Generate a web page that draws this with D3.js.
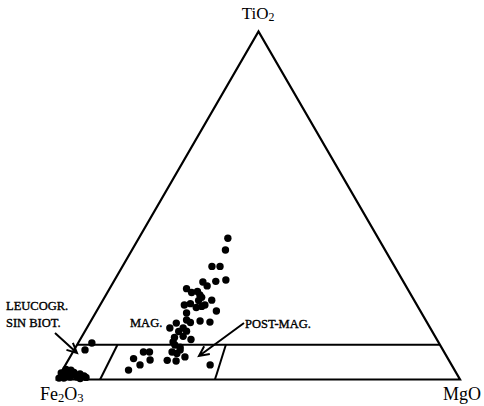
<!DOCTYPE html>
<html>
<head>
<meta charset="utf-8">
<script src="https://cdn.jsdelivr.net/npm/d3@7"></script>
<style>
  html, body { margin: 0; padding: 0; background: #fff; }
  svg { display: block; }
  text { font-family: "Liberation Serif", "Times New Roman", serif; fill: #000; }
</style>
</head>
<body>
<svg id="chart" width="484" height="406"></svg>
<script>
// Ternary diagram Fe2O3 - TiO2 - MgO (wt% normalised to 100)
const vertexLabels = ["Fe2O3", "TiO2", "MgO"];

// Sample compositions
const fe2o3 = [37.3, 39.6, 45.3, 43.3, 43.8, 46.5, 49.8, 49.3, 54.8, 54.1, 52.5, 52.3, 53.5, 50.2, 57.7, 56.0, 55.1, 52.6, 50.6, 58.3,
               56.1, 53.8, 62.3, 59.3, 58.7, 64.6, 62.9, 60.9, 61.3, 64.8, 62.5, 61.0, 52.4, 53.6,
               65.8, 64.8, 67.5, 66.5, 65.0, 69.9, 67.8, 65.2, 59.9, 80.9, 78.0, 77.3, 74.6, 73.1, 74.1, 65.8,
               86.1, 88.8, 98.3, 96.5, 96.4, 94.8, 94.7, 93.5, 92.8, 98.1, 95.6,
               99.3, 96.3, 95.2, 92.5, 94.1, 98.0];
const tio2  = [40.6, 37.2, 32.5, 32.5, 28.6, 28.2, 28.0, 26.9, 26.1, 25.0, 25.3, 23.6, 22.7, 22.8, 21.4, 21.8, 20.7, 21.4, 19.7, 19.1,
               16.8, 16.5, 16.2, 17.1, 16.4, 14.8, 13.8, 13.9, 14.8, 12.1, 12.4, 11.5, 24.3, 21.0,
                9.9,  9.3,  7.9,  7.5,  6.5,  5.5,  5.3,  8.5,  4.2,  2.7,  6.0,  4.2,  7.9,  7.9,  5.6, 10.8,
               10.5,  8.5,  1.0,  1.9,  0.7,  2.0,  0.7,  1.6,  1.0,  0.4,  1.3,
                0.4,  2.9,  2.7,  0.6,  0.3,  1.9];
const mgo   = [22.1, 23.2, 22.2, 24.2, 27.6, 25.3, 22.2, 23.8, 19.1, 20.9, 22.2, 24.1, 23.8, 27.0, 20.9, 22.2, 24.2, 26.0, 29.7, 22.6,
               27.1, 29.7, 21.5, 23.6, 24.9, 20.6, 23.3, 25.2, 23.9, 23.1, 25.1, 27.5, 23.3, 25.4,
               24.3, 25.9, 24.6, 26.0, 28.5, 24.6, 26.9, 26.3, 35.9, 16.4, 16.0, 18.5, 17.5, 19.0, 20.3, 23.4,
                3.4,  2.7,  0.7,  1.6,  2.9,  3.2,  4.6,  4.9,  6.2,  1.5,  3.1,
                0.3,  0.8,  2.1,  6.9,  5.6,  0.1];

// Field boundaries as [Fe2O3, TiO2, MgO] end points
const fieldLines = [
  [[90, 10, 0], [0, 10, 90]],        // TiO2 = 10 %
  [[89.3, 0, 10.7], [80, 10, 10]],   // LEUCOGR. / MAG.
  [[60.8, 0, 39.2], [53.1, 10, 36.9]] // MAG. / POST-MAG.
];

const fieldLabels = [
  { lines: ["LEUCOGR.", "SIN BIOT."], x: 6, y: 310 },
  { lines: ["MAG."], x: 130, y: 327 },
  { lines: ["POST-MAG."], x: 245, y: 328 }
];

const svg = d3.select("#chart");
const h = Math.sqrt(3) / 2;

// Cartesian scales for the unit triangle
const x = d3.scaleLinear().domain([0, 1]).range([57, 460]);
const y = d3.scaleLinear().domain([0, h]).range([379.5, 31.5]);

function project(fe, ti, mg) {
  const s = fe + ti + mg;
  const t = ti / s, m = mg / s;
  return [x(m + t / 2), y(t * h)];
}

const points = fe2o3.map((f, i) => project(f, tio2[i], mgo[i]));

// Outer triangle
const corners = [project(100, 0, 0), project(0, 100, 0), project(0, 0, 100)];
svg.append("path")
  .attr("d", d3.line()(corners) + "Z")
  .attr("fill", "none")
  .attr("stroke", "#000")
  .attr("stroke-width", 2.2)
  .attr("stroke-linejoin", "miter");

// Field boundaries
svg.selectAll("line.field")
  .data(fieldLines)
  .join("line")
  .attr("class", "field")
  .attr("x1", d => project(...d[0])[0])
  .attr("y1", d => project(...d[0])[1])
  .attr("x2", d => project(...d[1])[0])
  .attr("y2", d => project(...d[1])[1])
  .attr("stroke", "#000")
  .attr("stroke-width", 2);

// Samples
svg.selectAll("circle.pt")
  .data(points)
  .join("circle")
  .attr("class", "pt")
  .attr("cx", d => d[0])
  .attr("cy", d => d[1])
  .attr("r", 3.7)
  .attr("fill", "#000");

// Vertex labels with subscripts
function chemLabel(sel, formula) {
  formula.split(/(\d)/).filter(s => s.length).forEach(part => {
    if (/\d/.test(part)) {
      sel.append("tspan").attr("font-size", "0.7em").attr("dy", 2).text(part);
    } else {
      sel.append("tspan").attr("dy", sel.selectAll("tspan").size() ? -2 : 0).text(part);
    }
  });
}

const vTop = svg.append("text").attr("x", 258).attr("y", 21)
  .attr("text-anchor", "middle").attr("font-size", 17);
chemLabel(vTop, vertexLabels[1]);

const vLeft = svg.append("text").attr("x", 40).attr("y", 402)
  .attr("font-size", 18);
chemLabel(vLeft, vertexLabels[0]);

const vRight = svg.append("text").attr("x", 443).attr("y", 402)
  .attr("font-size", 18);
chemLabel(vRight, vertexLabels[2]);

// Field names
fieldLabels.forEach(lb => {
  const t = svg.append("text").attr("x", lb.x).attr("y", lb.y)
    .attr("font-size", 12.5).attr("stroke", "#000").attr("stroke-width", 0.35);
  lb.lines.forEach((s, i) => {
    t.append("tspan").attr("x", lb.x).attr("dy", i ? 17 : 0).text(s);
  });
});

// Pointer arrows
const arrows = [
  { from: [55, 333], to: [77, 353] },
  { from: [244, 323], to: [199, 356] }
];
arrows.forEach(a => {
  const ang = Math.atan2(a.to[1] - a.from[1], a.to[0] - a.from[0]);
  const len = 11, spread = 0.45;
  const wing = s => [a.to[0] - len * Math.cos(ang + s), a.to[1] - len * Math.sin(ang + s)];
  svg.append("path")
    .attr("d", d3.line()([a.from, a.to]) + "M" + wing(spread) + "L" + a.to + "L" + wing(-spread))
    .attr("fill", "none")
    .attr("stroke", "#000")
    .attr("stroke-width", 2);
});
</script>
</body>
</html>
